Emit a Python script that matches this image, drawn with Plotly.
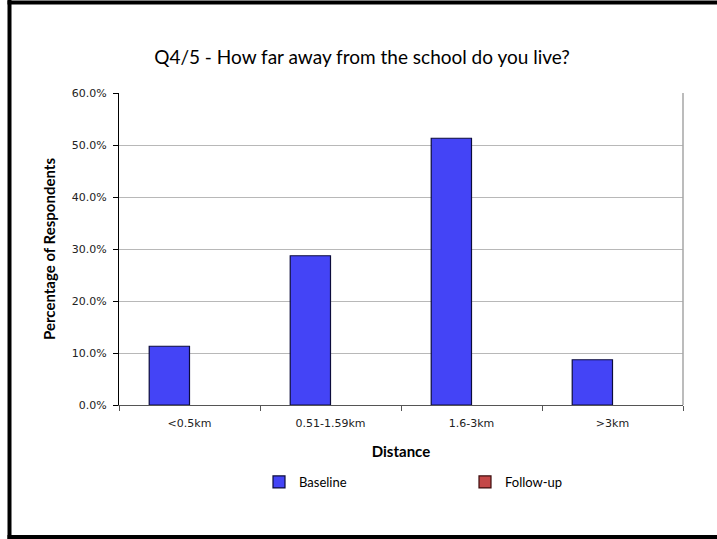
import plotly.graph_objects as go

categories = ["<0.5km", "0.51-1.59km", "1.6-3km", ">3km"]
baseline = [11.3, 28.7, 51.3, 8.7]
follow_up = [None, None, None, None]
y_ticks = [0, 10, 20, 30, 40, 50, 60]
y_tick_labels = ["0.0%", "10.0%", "20.0%", "30.0%", "40.0%", "50.0%", "60.0%"]

W, H = 717, 539
L, R, T, B = 119, 34, 93, 134
PW, PH = W - L - R, H - T - B


def px(x):
    return (x - L) / PW


def py(y):
    return (H - B - y) / PH


fig = go.Figure()
fig.add_trace(go.Bar(
    name="Baseline", x=categories, y=baseline, legend="legend", showlegend=True,
    marker=dict(color="#4444f6", line=dict(color="#0c0c3c", width=1.2)),
))
fig.add_trace(go.Bar(
    name="Follow-up", x=categories, y=follow_up, legend="legend2", showlegend=True,
    marker=dict(color="#c44848", line=dict(color="#3c0c0c", width=1.2)),
))

shapes = [
    # right plot-area border
    dict(type="line", xref="paper", yref="paper", x0=1, x1=1, y0=0, y1=1,
         line=dict(color="#a6a6a6", width=1.5)),
    # outer chart frame (left, top, bottom)
    dict(type="line", xref="paper", yref="paper", x0=px(9.5), x1=px(9.5), y0=py(0), y1=py(539),
         line=dict(color="black", width=4)),
    dict(type="line", xref="paper", yref="paper", x0=px(7.5), x1=px(717), y0=py(2.5), y1=py(2.5),
         line=dict(color="black", width=4)),
    dict(type="line", xref="paper", yref="paper", x0=px(7.5), x1=px(717), y0=py(537), y1=py(537),
         line=dict(color="black", width=4)),
]

legend_common = dict(orientation="h", xanchor="left", yanchor="middle",
                     font=dict(family="Lato", size=13, color="black"),
                     bgcolor="rgba(0,0,0,0)", visible=True)

fig.update_layout(
    width=W, height=H,
    showlegend=True,
    margin=dict(l=L, r=R, t=T, b=B),
    paper_bgcolor="white", plot_bgcolor="white",
    barmode="group", bargap=1.5 / 3.5, bargroupgap=0,
    title=dict(text="Q4/5 - How far away from the school do you live?",
               xref="paper", x=px(362), xanchor="center",
               yref="container", y=1 - 57 / H, yanchor="middle",
               font=dict(family="Lato", size=19, color="black")),
    font=dict(family="DejaVu Sans", size=11, color="#222222"),
    xaxis=dict(
        showline=True, linecolor="#555555", linewidth=1,
        ticks="outside", ticklen=5, tickcolor="#555555", tickson="boundaries",
        ticklabelstandoff=8,
        tickfont=dict(family="DejaVu Sans", size=11, color="#222222"),
        title=dict(text="Distance", standoff=17,
                   font=dict(family="Lato", size=15, color="black", weight="bold")),
        showgrid=False, zeroline=False,
    ),
    yaxis=dict(
        range=[0, 60], tickvals=y_ticks, ticktext=y_tick_labels,
        showline=True, linecolor="black", linewidth=1,
        ticks="outside", ticklen=5, tickcolor="black",
        ticklabelstandoff=4,
        showgrid=True, gridcolor="#b8b8b8", gridwidth=1, zeroline=False,
        tickfont=dict(family="DejaVu Sans", size=11, color="#222222"),
        title=dict(text="Percentage of Respondents", standoff=12,
                   font=dict(family="Lato", size=15, color="black", weight="bold")),
    ),
    legend=dict(x=px(259), y=py(482), **legend_common),
    legend2=dict(x=px(465), y=py(482), **legend_common),
    shapes=shapes,
)

fig.write_html("out.html", config={"displayModeBar": False},
               post_script="document.body.style.margin='0';")
